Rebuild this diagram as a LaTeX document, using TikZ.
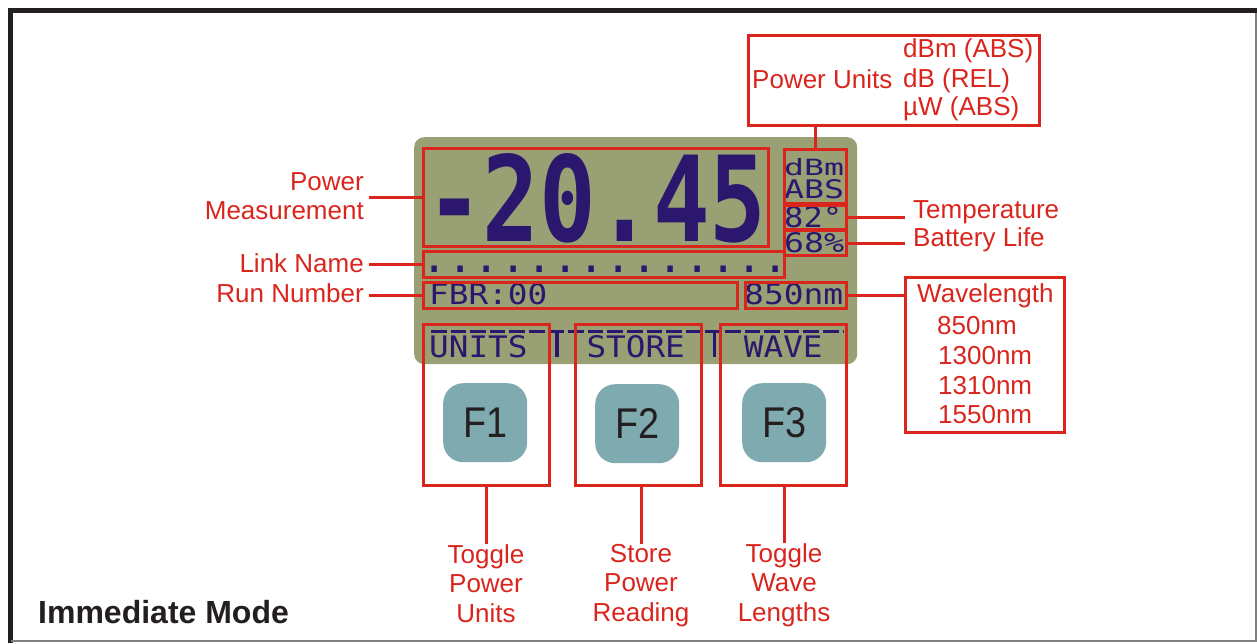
\documentclass[tikz,border=0pt]{standalone}
\usepackage{fontspec}
\setmainfont{Liberation Sans}
\newfontfamily\lcdfont{DejaVu Sans Mono}
\definecolor{lblred}{RGB}{218,37,29}
\definecolor{lcdbg}{RGB}{152,160,116}
\definecolor{lcdink}{RGB}{43,24,110}
\definecolor{btnfill}{RGB}{127,171,176}
\definecolor{framek}{RGB}{35,31,32}
\newcommand{\lcdfit}[3]{\resizebox{#1pt}{#2pt}{\lcdfont #3}}
\newcommand{\lcdsp}{\hspace*{0.602em}}
\newcommand{\lcdsep}{\makebox[0.602em]{\smash{\rule{0.1em}{0.88em}}}}
\begin{document}
\begin{tikzpicture}[x=1pt,y=-1pt,
  redbox/.style={draw=lblred, line width=3pt, inner sep=0pt, anchor=north west},
  lbl/.style={text=lblred, font=\fontsize{26}{29.5}\selectfont, inner xsep=5pt, inner ysep=0pt},
  boxtxt/.style={text=lblred, font=\fontsize{26}{29.5}\selectfont, inner sep=0pt, anchor=base west},
  conn/.style={draw=lblred, line width=3pt},
  lcdtxt/.style={text=lcdink, inner sep=0pt, anchor=base west},
  fbtn/.style={fill=btnfill, rounded corners=20pt, minimum width=84, minimum height=79, inner sep=0pt, anchor=north west, text=framek, font=\fontsize{43}{43}\selectfont},
]
\useasboundingbox (0,0) rectangle (1257,643);
\fill[white] (0,0) rectangle (1257,643);
% frame
\draw[line width=5pt, framek] (10.5,643) -- (10.5,10.5) -- (1257,10.5);
\draw[line width=1.5pt, gray] (10.5,641.2) -- (1256,641.2) -- (1256,13);

% LCD
\node[fill=lcdbg, rounded corners=10pt, minimum width=443, minimum height=227, anchor=north west, inner sep=0pt] (lcd) at (414,137) {};

% LCD texts
\node[lcdtxt] (big) at (426,241) {\resizebox{340pt}{88pt}{\lcdfont\bfseries -20.45}};
\node[lcdtxt] (tdbm) at (784,175) {\lcdfit{60}{17}{dBm}};
\node[lcdtxt] (tabs) at (784,198) {\lcdfit{60}{19}{ABS}};
\node[lcdtxt] (t82) at (784,227) {\lcdfit{58}{21}{82°}};
\node[lcdtxt] (t68) at (784,252) {\lcdfit{60}{20}{68\%}};
\node[lcdtxt] (tdots) at (421,272) {\resizebox{368pt}{!}{\lcdfont ..............}};
\node[lcdtxt] (tfbr) at (429,304) {\lcdfit{118}{21}{FBR:00}};
\node[lcdtxt] (t850) at (744,304) {\lcdfit{99}{21}{850nm}};
\node[lcdtxt] (tsoft) at (429,357) {\lcdfit{413}{22}{UNITS\lcdsp\lcdsep\lcdsp STORE\lcdsp\lcdsep\lcdsp WAVE\lcdsp}};
\draw[lcdink, line width=3pt, dash pattern=on 15.5pt off 4.1pt] (431,331.5) -- (843,331.5);

% red boxes on LCD
\node[redbox, minimum width=345, minimum height=98] (pm) at (422,147) {};
\node[redbox, minimum width=62, minimum height=54] (pu) at (783,148) {};
\node[redbox, minimum width=62, minimum height=24] (temp) at (783,204) {};
\node[redbox, minimum width=62, minimum height=25] (batt) at (783,229) {};
\node[redbox, minimum width=361, minimum height=26] (link) at (422,250) {};
\node[redbox, minimum width=314, minimum height=26] (fbr) at (422,281) {};
\node[redbox, minimum width=101, minimum height=26] (wl) at (744,281) {};
\node[redbox, minimum width=126, minimum height=161] (bunits) at (422,323) {};
\node[redbox, minimum width=126, minimum height=161] (bstore) at (574,323) {};
\node[redbox, minimum width=126, minimum height=161] (bwave) at (719,323) {};

% buttons
\node[fbtn] (f1) at (443,383) {\scalebox{0.88}[1]{F1}};
\node[fbtn] (f2) at (595,384) {\scalebox{0.88}[1]{F2}};
\node[fbtn] (f3) at (742,383) {\scalebox{0.88}[1]{F3}};

% power units box
\node[redbox, minimum width=291, minimum height=90] (pubox) at (747,34) {};
\node[boxtxt] (puname) at (752,88) {Power Units};
\node[boxtxt] (pu1) at (903,57) {dBm (ABS)};
\node[boxtxt] (pu2) at (903,87) {dB (REL)};
\node[boxtxt] (pu3) at (903,115) {µW (ABS)};
\draw[conn] (pu.north |- pubox.south) -- (pu.north);

% wavelength box
\node[redbox, minimum width=159, minimum height=155] (wbox) at (904,276) {};
\node[boxtxt] (wname) at (917,302) {Wavelength};
\node[boxtxt] (w1) at (937,334) {850nm};
\node[boxtxt] (w2) at (938,364) {1300nm};
\node[boxtxt] (w3) at (938,394) {1310nm};
\node[boxtxt] (w4) at (938,423) {1550nm};
\draw[conn] (wl.east) -- (wl.east -| wbox.west);

% left labels
\node[lbl, align=right, anchor=north east] (lpm) at (369,172) {Power\\Measurement};
\node[lbl, anchor=base east] (llink) at (369,272) {Link Name};
\node[lbl, anchor=base east] (lrun) at (369,302) {Run Number};
\draw[conn] (pm.west) -- (pm.west -| lpm.east);
\draw[conn] (link.west) -- (link.west -| llink.east);
\draw[conn] (fbr.west) -- (fbr.west -| lrun.east);

% right labels
\node[lbl, anchor=base west, inner xsep=8pt] (ltemp) at (905,218) {Temperature};
\node[lbl, anchor=base west, inner xsep=8pt] (lbatt) at (905,246) {Battery Life};
\draw[conn] (temp.east) -- (temp.east -| ltemp.west);
\draw[conn] (batt.east) -- (batt.east -| lbatt.west);

% bottom labels
\node[lbl, align=center, anchor=north, inner sep=0pt] (lunits) at (486,544) {Toggle\\Power\\Units};
\node[lbl, align=center, anchor=north, inner sep=0pt] (lstore) at (641,544) {Store\\Power\\Reading};
\node[lbl, align=center, anchor=north, inner sep=0pt] (lwave) at (784,543) {Toggle\\Wave\\Lengths};
\draw[conn] (lunits.north |- bunits.south) -- (lunits.north);
\draw[conn] (lstore.north |- bstore.south) -- (lstore.north);
\draw[conn] (lwave.north |- bwave.south) -- (lwave.north);

% title
\node[font=\bfseries\fontsize{32}{32}\selectfont, anchor=base west, inner sep=0pt, text=framek] (mode) at (38,623) {Immediate Mode};
\end{tikzpicture}
\end{document}
